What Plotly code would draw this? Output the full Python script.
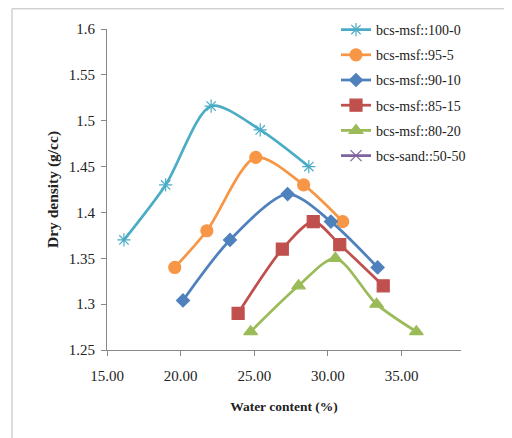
import plotly.graph_objects as go

names = ["bcs-msf::100-0", "bcs-msf::95-5", "bcs-msf::90-10", "bcs-msf::85-15", "bcs-msf::80-20", "bcs-sand::50-50"]
water = [
    [16.15, 18.98, 22.07, 25.4, 28.7],
    [19.6, 21.78, 25.1, 28.35, 31.0],
    [20.16, 23.35, 27.26, 30.2, 33.37],
    [23.9, 26.9, 29.0, 30.8, 33.75],
    [24.75, 28.0, 30.5, 33.3, 36.0],
    [],
]
density = [
    [1.37, 1.43, 1.516, 1.49, 1.45],
    [1.34, 1.38, 1.46, 1.43, 1.39],
    [1.304, 1.37, 1.42, 1.39, 1.34],
    [1.29, 1.36, 1.39, 1.365, 1.32],
    [1.27, 1.32, 1.35, 1.30, 1.27],
    [],
]
colors = ["#4BACC6", "#F79646", "#4F81BD", "#C0504D", "#9BBB59", "#8064A2"]
symbols = ["asterisk-open", "circle", "diamond", "square", "triangle-up", "x-thin-open"]
sizes = [11, 12, 10, 12, 12, 11]
xticks = [15, 20, 25, 30, 35]
xtick_text = ["15.00", "20.00", "25.00", "30.00", "35.00"]
yticks = [1.25, 1.3, 1.35, 1.4, 1.45, 1.5, 1.55, 1.6]
ytick_text = ["1.25", "1.3", "1.35", "1.4", "1.45", "1.5", "1.55", "1.6"]

font = "Liberation Serif, Times New Roman, serif"
# page body has an 8px margin, so the figure is sized/offset to compensate
W, H, OFF = 504, 430, 8
fig = go.Figure()
for i in range(len(names)):
    xs = water[i] if water[i] else [None]
    ys = density[i] if density[i] else [None]
    fig.add_trace(go.Scatter(
        x=xs, y=ys, name=names[i], mode="lines+markers", legendgroup="g%d" % i,
        line=dict(color=colors[i], width=2.75, shape="spline", smoothing=0.8),
        marker=dict(symbol=symbols[i], size=sizes[i], color=colors[i],
                    line=dict(color=colors[i], width=1.2)),
    ))

fig.update_layout(
    width=W, height=H,
    margin=dict(l=107 - OFF, r=51, t=29 - OFF, b=88, autoexpand=False),
    paper_bgcolor="white", plot_bgcolor="white",
    font=dict(family=font, size=14, color="#222"),
    showlegend=True,
    legend=dict(xref="container", yref="container", x=(336 - OFF) / W, y=1 - (14 - OFF) / H,
                xanchor="left", yanchor="top",
                font=dict(family=font, size=14, color="#222"),
                bgcolor="rgba(0,0,0,0)", tracegroupgap=4, itemwidth=30),
    xaxis=dict(range=[15, 39.03], tickvals=xticks, ticktext=xtick_text,
               showgrid=False, zeroline=False, showline=True, linecolor="#888", linewidth=1,
               ticks="outside", ticklen=5, tickcolor="#888", ticklabelstandoff=7,
               tickfont=dict(family=font, size=15),
               title=dict(text="<b>Water content (%)</b>", font=dict(family=font, size=13.5), standoff=18)),
    yaxis=dict(range=[1.25, 1.6], tickvals=yticks, ticktext=ytick_text,
               showgrid=False, zeroline=False, showline=True, linecolor="#888", linewidth=1,
               ticks="outside", ticklen=5, tickcolor="#888", ticklabelstandoff=3,
               tickfont=dict(family=font, size=15),
               title=dict(text="<b>Dry density (g/cc)</b>", font=dict(family=font, size=15.5), standoff=6)),
    shapes=[dict(type="rect", xref="paper", yref="paper",
                 x0=(12 - 107) / 354, x1=(509 - 107) / 354,
                 y0=-0.3, y1=(350 - 8.5) / 321.3,
                 line=dict(color="#BBBBBB", width=1), fillcolor="rgba(0,0,0,0)", layer="below")],
)

fig.write_html("out.html")
